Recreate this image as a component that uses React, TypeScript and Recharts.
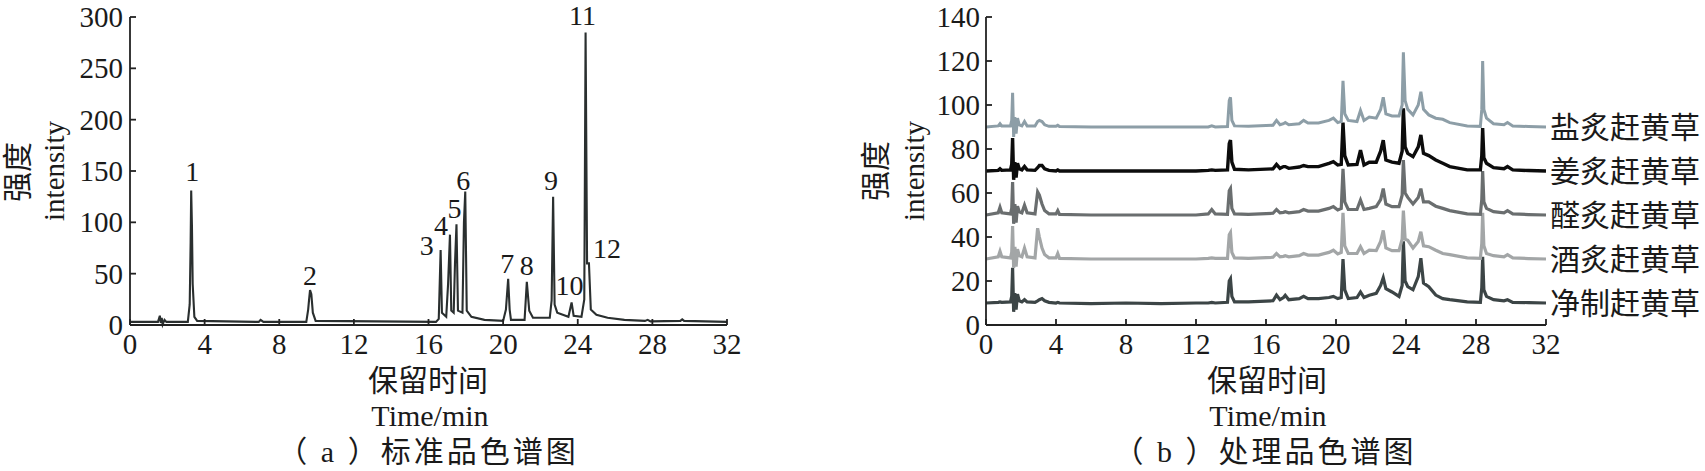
import { LineChart, Line, XAxis, YAxis, ReferenceDot, LabelList } from "recharts"

// (a) standard mixture chromatogram, retention time (min) vs intensity
const timesA = [
  0, 1.5, 1.6, 1.65, 1.7, 1.75, 1.85, 1.95, 3.1, 3.2, 3.25, 3.28, 3.32, 3.36, 3.45, 3.6,
  6.9, 7.0, 7.15, 9.45, 9.55, 9.6, 9.65, 9.72, 9.8, 9.95, 16.4, 16.55, 16.65, 16.72, 16.95, 17.05,
  17.15, 17.22, 17.35, 17.42, 17.5, 17.58, 17.82, 17.9, 17.97, 18.05, 18.3, 19.0, 20.0, 20.15, 20.27, 20.35,
  20.42, 21.15, 21.27, 21.4, 21.6, 22.5, 22.6, 22.68, 22.76, 22.9, 23.5, 23.67, 23.78, 24.2, 24.35, 24.42,
  24.5, 24.6, 24.7, 25.0, 25.6, 26.5, 27.6, 27.75, 27.9, 29.5, 29.6, 29.7, 32,
]
const intensityA = [
  3, 3, 9, 2, 7, 0.5, 5, 3, 3, 20, 80, 131, 97, 40, 8, 4,
  3, 5, 3, 3, 15, 25, 34, 30, 12, 4, 3, 6, 73, 12, 8, 40,
  88, 14, 12, 60, 98, 14, 12, 100, 130, 14, 8, 5, 4, 15, 45, 15,
  5, 5, 42, 14, 7, 7, 24, 125, 20, 12, 8, 22, 9, 8, 25, 285,
  60, 60, 15, 10, 7, 5, 4, 5, 3.5, 4, 5.5, 4, 3,
]

// numbered peaks in (a)
const peakIds = ["1", "2", "3", "4", "5", "6", "7", "8", "9", "10", "11", "12"]
const peakTimes = [3.28, 9.65, 16.65, 17.15, 17.5, 17.97, 20.27, 21.27, 22.68, 23.67, 24.42, 24.6]
const peakHeights = [131, 34, 73, 88, 98, 130, 45, 42, 125, 22, 285, 60]

// (b) processed samples, shared time grid, intensity above each trace's own baseline
const timesB = [
  0, 0.7, 0.8, 0.9, 1.4, 1.47, 1.52, 1.58,
  1.65, 1.72, 1.8, 1.9, 2.05, 2.2, 2.35, 2.8,
  2.95, 3.05, 3.2, 3.35, 3.6, 4.0, 4.1, 4.2,
  6, 8, 10, 12, 12.7, 12.9, 13.1, 13.8,
  13.9, 13.97, 14.05, 14.2, 15, 16.4, 16.6, 16.8,
  17.0, 17.1, 17.3, 17.9, 18.15, 18.4, 19.0, 19.6,
  19.85, 20.1, 20.3, 20.4, 20.5, 20.7, 21.2, 21.4,
  21.6, 21.9, 22.3, 22.55, 22.7, 22.85, 23.2, 23.6,
  23.78, 23.85, 23.95, 24.1, 24.4, 24.7, 24.85, 25.0,
  25.3, 25.7, 26.1, 26.5, 27.5, 28.25, 28.33, 28.38,
  28.45, 28.6, 29.0, 29.6, 29.8, 30.1, 31, 32,
]
const yanzhi = [
  0, 0.5, 1.5, 0.5, 0.5, 3, 15.5, -4.5,
  4.5, -3, 4, 1, 0.5, 2.5, 0.5, 0.5,
  2.5, 3, 2.5, 1, 0.3, 0.3, 0.8, 0.2,
  0, 0, 0, 0, 0, 0.5, 0, 0.2,
  12, 13.5, 3, 0.5, 0.3, 0.8, 3, 1,
  1.5, 2, 1, 1.5, 3, 1.8, 1.8, 3,
  4, 2, 2.5, 21, 6, 3, 2.5, 7.5,
  3, 4.5, 4, 8, 13.5, 6, 5, 5,
  10, 34, 12, 8, 5.5, 10, 16, 8,
  5.5, 4, 3.5, 2, 0.5, 0.3, 8, 30,
  8, 4, 1.5, 1, 2, 0.5, 0.2, 0,
]
const jiangzhi = [
  0, 0.3, 1, 0.3, 0.5, 3, 15, -4,
  4, -3, 3.5, 1, 0.5, 2, 0.5, 0.3,
  1.5, 2.5, 2.5, 1, 0.3, 0, 0.5, 0,
  0, 0, 0, 0, 0.3, 0.5, 0.3, 0.5,
  12.5, 14, 4, 0.8, 0.5, 1, 3, 1.2,
  2, 2, 1.2, 1.8, 2.5, 2, 2, 3.5,
  4.2, 2.7, 3, 22, 7, 2.7, 3, 9.5,
  2.7, 4, 4, 9, 14, 5, 4, 3.5,
  9, 28.5, 11, 8, 6.5, 11, 16.4, 8,
  7, 5, 3.5, 2, 0.5, 0.5, 7, 19.5,
  6, 3.5, 1.5, 1, 2, 0.5, 0.2, 0,
]
const quanzhi = [
  0, 1, 3.5, 1, 0.5, 3, 15, -4,
  5, -3.5, 4, 1.5, 1, 4.5, 1, 0.5,
  10.5, 9, 5, 2, 0.5, 0.5, 2, 0.3,
  0, 0, 0, 0, 0.5, 2.5, 0.5, 0.3,
  11, 12, 3, 0.5, 0.3, 0.8, 2.5, 1,
  1.2, 1.5, 1, 1.5, 2.5, 1.8, 1.8, 3,
  3.8, 2.3, 3, 21, 6, 2.5, 2.5, 6.8,
  2.5, 3, 3.8, 7, 12, 5, 3.8, 3.8,
  9, 25, 10, 8, 5, 8, 12, 6,
  6, 4, 3, 2, 0.5, 0.3, 7, 20,
  6, 3, 1.5, 1, 2, 0.5, 0.2, 0,
]
const jiuzhi = [
  0, 1, 3.5, 1, 0.5, 3, 15, -4,
  5.5, -3.5, 4.5, 1.5, 1, 5, 1, 0.5,
  14, 10, 5, 2, 0.5, 0.5, 2.5, 0.3,
  0, 0, 0, 0, 0.3, 0.5, 0.3, 0.3,
  11, 12, 3, 0.5, 0.3, 0.8, 2.5, 1,
  1.2, 1.5, 1, 1.5, 2.5, 1.8, 1.8, 3,
  4, 2.3, 3, 21, 6, 2.5, 2.5, 5.6,
  2.5, 4, 3.8, 8, 13, 5, 3.8, 3.8,
  9, 22, 9, 8.5, 5, 8, 12.4, 6,
  5.6, 4, 2.5, 2, 0.5, 0.3, 7, 21,
  6, 2.5, 1.5, 1, 2, 0.5, 0.2, 0,
]
const jingzhi = [
  0, 0.3, 0.5, 0.3, 0.5, 3, 16, -4,
  4.5, -3, 4, 1, 0.5, 1.5, 0.5, 0.3,
  1, 1.5, 2, 1, 0.3, 0, 0.3, 0,
  -0.3, 0, -0.3, 0, 0, 0.3, 0, 0.3,
  10, 11, 3, 0.5, 0.5, 1, 3.6, 1.5,
  2.5, 3.5, 1.5, 2, 3, 2, 2, 2.5,
  3, 2, 2.5, 20, 6, 2, 2.5, 5,
  2.5, 3.5, 4.4, 8, 11.5, 6.5, 5, 3,
  8, 28, 10, 7.4, 6, 12, 20.4, 9,
  7.4, 3.6, 2, 1.5, 0.5, 0.3, 7, 21,
  6, 3, 1.5, 1, 1.5, 0.3, 0.2, 0,
]
const seriesNames = ["盐炙赶黄草", "姜炙赶黄草", "醛炙赶黄草", "酒炙赶黄草", "净制赶黄草"]
const seriesValues = [yanzhi, jiangzhi, quanzhi, jiuzhi, jingzhi]
const seriesOffsets = [90, 70, 50, 30, 10]

const ticksX = [0, 4, 8, 12, 16, 20, 24, 28, 32]
const ticksA = [0, 50, 100, 150, 200, 250, 300]
const ticksB = [0, 20, 40, 60, 80, 100, 120, 140]

// styles
const serif = '"Liberation Serif", "Noto Sans CJK SC", serif'
const ink = "#1a1a1a"
const seriesColors = ["#8d9ea7", "#0c0c0c", "#6a6e6f", "#a3a6a7", "#3c4546"]
const seriesWidths = [3, 3.4, 3.2, 3.2, 3.2]
const peakLabelShift = [
  [1, -20], [0, -15], [-14, -5], [-9, -10], [-2, -16], [-2, -12],
  [-1, -16], [0, -17], [-2, -17], [-2, -17], [-3, -17], [18, -15],
]

const standardData = timesA.map((t, i) => ({ t, v: intensityA[i] }))
const processedData = timesB.map((t, i) => {
  const row: Record<string, number> = { t }
  seriesValues.forEach((vals, k) => {
    row[`s${k}`] = vals[i] + seriesOffsets[k]
  })
  return row
})

// tick text: x axis labels hang below, y axis labels sit left and centred
const XTick = (props: any) => (
  <text x={props.x} y={props.y + 20} textAnchor="middle" fontSize={29} fill={ink} fontFamily={serif}>
    {props.payload.value}
  </text>
)
const YTick = (props: any) => (
  <text x={props.x} y={props.y + 10} textAnchor="end" fontSize={29} fill={ink} fontFamily={serif}>
    {props.payload.value}
  </text>
)

function endLabel(name: string) {
  return (props: any) => {
    if (props.index !== timesB.length - 1) return null
    return (
      <text x={props.x + 4} y={props.y} dominantBaseline="central" fontSize={30} fill={ink} fontFamily={serif}>
        {name}
      </text>
    )
  }
}

export default function App() {
  return (
    <div style={{ position: "absolute", left: 0, top: 0, width: 1705, height: 471, background: "#fff", overflow: "hidden" }}>
      <div style={{ position: "absolute", left: 0, top: 0 }}>
        <LineChart width={760} height={471} data={standardData} margin={{ top: 17, right: 33, bottom: 106, left: 0 }}>
          <XAxis
            dataKey="t"
            type="number"
            domain={[0, 32]}
            ticks={ticksX}
            interval={0}
            height={40}
            stroke="#222"
            strokeWidth={1.8}
            tickSize={-6}
            tickMargin={15}
            tick={<XTick />}
          />
          <YAxis
            type="number"
            domain={[0, 300]}
            ticks={ticksA}
            interval={0}
            width={130}
            stroke="#222"
            strokeWidth={1.8}
            tickSize={-6}
            tickMargin={13}
            tick={<YTick />}
          />
          <Line dataKey="v" type="linear" stroke="#2a2f2f" strokeWidth={2.1} dot={false} isAnimationActive={false} />
          {peakIds.map((id, i) => (
            <ReferenceDot
              key={id}
              x={peakTimes[i]}
              y={peakHeights[i]}
              r={0}
              shape={(p: any) => (
                <text
                  x={p.cx + peakLabelShift[i][0]}
                  y={p.cy + peakLabelShift[i][1] + 10}
                  textAnchor="middle"
                  fontSize={28}
                  fill={ink}
                  fontFamily={serif}
                >
                  {id}
                </text>
              )}
            />
          ))}
        </LineChart>
      </div>

      <div style={{ position: "absolute", left: 830, top: 0 }}>
        <LineChart width={875} height={471} data={processedData} margin={{ top: 17, right: 159, bottom: 106, left: 0 }}>
          <XAxis
            dataKey="t"
            type="number"
            domain={[0, 32]}
            ticks={ticksX}
            interval={0}
            height={40}
            stroke="#222"
            strokeWidth={1.8}
            tickSize={-6}
            tickMargin={15}
            tick={<XTick />}
          />
          <YAxis
            type="number"
            domain={[0, 140]}
            ticks={ticksB}
            interval={0}
            width={156}
            stroke="#222"
            strokeWidth={1.8}
            tickSize={-6}
            tickMargin={12}
            tick={<YTick />}
          />
          {[4, 3, 2, 1, 0].map((k) => (
            <Line
              key={k}
              dataKey={`s${k}`}
              type="linear"
              stroke={seriesColors[k]}
              strokeWidth={seriesWidths[k]}
              dot={false}
              isAnimationActive={false}
            >
              <LabelList dataKey={`s${k}`} content={endLabel(seriesNames[k])} />
            </Line>
          ))}
        </LineChart>
      </div>

      <svg width={1705} height={471} style={{ position: "absolute", left: 0, top: 0, pointerEvents: "none" }}>
        <g fill={ink} fontFamily={serif}>
          <text x={17} y={172} fontSize={30} textAnchor="middle" dominantBaseline="central" transform="rotate(-90 17 172)">强度</text>
          <text x={54} y={171} fontSize={29} textAnchor="middle" dominantBaseline="central" transform="rotate(-90 54 171)">intensity</text>
          <text x={428} y={380} fontSize={30} textAnchor="middle" dominantBaseline="central">保留时间</text>
          <text x={430} y={426} fontSize={30} textAnchor="middle">Time/min</text>
          <text x={428} y={451} fontSize={30} textAnchor="middle" dominantBaseline="central" letterSpacing={3}>（ a ）标准品色谱图</text>

          <text x={875} y={171} fontSize={30} textAnchor="middle" dominantBaseline="central" transform="rotate(-90 875 171)">强度</text>
          <text x={914} y={171} fontSize={29} textAnchor="middle" dominantBaseline="central" transform="rotate(-90 914 171)">intensity</text>
          <text x={1267} y={380} fontSize={30} textAnchor="middle" dominantBaseline="central">保留时间</text>
          <text x={1268} y={426} fontSize={30} textAnchor="middle">Time/min</text>
          <text x={1265} y={451} fontSize={30} textAnchor="middle" dominantBaseline="central" letterSpacing={3}>（ b ）处理品色谱图</text>
        </g>
      </svg>
    </div>
  )
}
